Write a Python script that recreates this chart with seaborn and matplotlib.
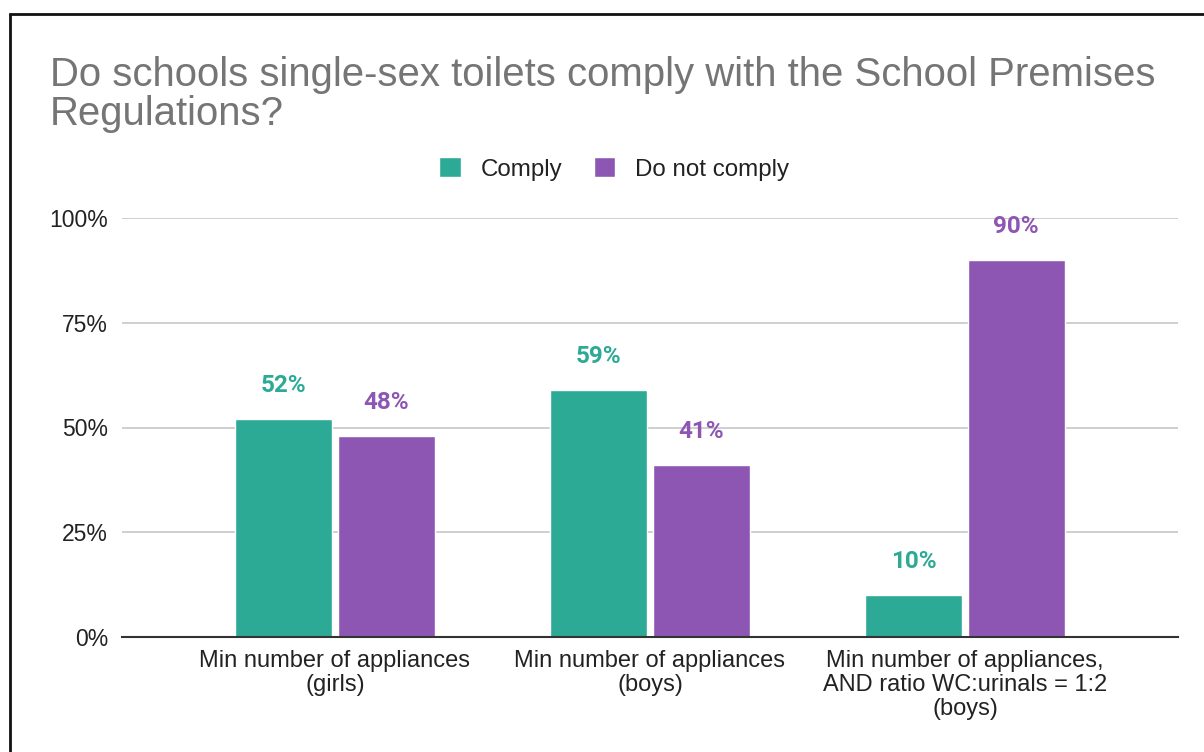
import matplotlib
matplotlib.use("Agg")
import matplotlib.pyplot as plt
from matplotlib.patches import Rectangle
import seaborn as sns
import pandas as pd

categories = [
    "Min number of appliances\n(girls)",
    "Min number of appliances\n(boys)",
    "Min number of appliances,\nAND ratio WC:urinals = 1:2\n(boys)",
]
series_names = ["Comply", "Do not comply"]
comply = [52, 59, 10]
not_comply = [48, 41, 90]
y_ticks = [0, 25, 50, 75, 100]
y_tick_labels = ["0%", "25%", "50%", "75%", "100%"]
title = "Do schools single-sex toilets comply with the School Premises\nRegulations?"

colors = {"Comply": "#2DAA96", "Do not comply": "#8E56B3"}

df = pd.DataFrame({
    "category": categories * 2,
    "status": [series_names[0]] * 3 + [series_names[1]] * 3,
    "value": comply + not_comply,
})

sns.set_theme(style="white")
plt.rcParams["font.family"] = ["Liberation Sans", "DejaVu Sans"]

fig = plt.figure(figsize=(12.04, 7.52), dpi=100)
ax = fig.add_axes([122 / 1204, 1 - 637 / 752, (1178 - 122) / 1204, (637 - 218) / 752])

sns.barplot(data=df, x="category", y="value", hue="status", order=categories,
            hue_order=series_names, palette=colors, width=0.65, gap=0.05,
            saturation=1, ax=ax, legend=True)

ax.set_xlim(-0.676, 2.676)
ax.set_ylim(0, 100)
ax.set_yticks(y_ticks)
ax.set_yticklabels(y_tick_labels)
ax.set_xlabel("")
ax.set_ylabel("")
ax.grid(axis="y", color="#cccccc", linewidth=1.3)
ax.set_axisbelow(True)
for side in ["top", "right", "left"]:
    ax.spines[side].set_visible(False)
ax.spines["bottom"].set_color("#333333")
ax.spines["bottom"].set_linewidth(1.5)
ax.tick_params(axis="y", length=0, pad=10, labelsize=16.5, labelcolor="#222222")
ax.tick_params(axis="x", length=0, pad=9, labelsize=17, labelcolor="#222222")
for lbl in ax.get_xticklabels():
    lbl.set_horizontalalignment("center")
    lbl.set_linespacing(1.12)

# value labels above each bar
for container, name, vals in zip(ax.containers, series_names, [comply, not_comply]):
    ax.bar_label(container, labels=[f"{v}%" for v in vals], padding=16,
                 color=colors[name], fontsize=17.5, fontweight="bold",
                 family=["Roboto", "DejaVu Sans"])

# legend centred above the plot
handles, labels = ax.get_legend_handles_labels()
ax.legend_.remove()
fig.legend(handles, labels, loc="center", bbox_to_anchor=(614 / 1204, 1 - 169 / 752),
           ncol=2, frameon=False, fontsize=17.4, handlelength=0.9, handleheight=0.9,
           handletextpad=0.8, columnspacing=1.3, labelcolor="#222222")

fig.text(50 / 1204, 1 - 56 / 752, title, ha="left", va="top", fontsize=28.9,
         color="#757575", linespacing=1.03)

# outer frame
fig.patches.append(Rectangle((9.5 / 1204, -0.1), 1.2, 1.1 - 14 / 752, transform=fig.transFigure,
                             fill=False, edgecolor="#111111", linewidth=2))

fig.savefig("out.png", dpi=100, facecolor="white")
